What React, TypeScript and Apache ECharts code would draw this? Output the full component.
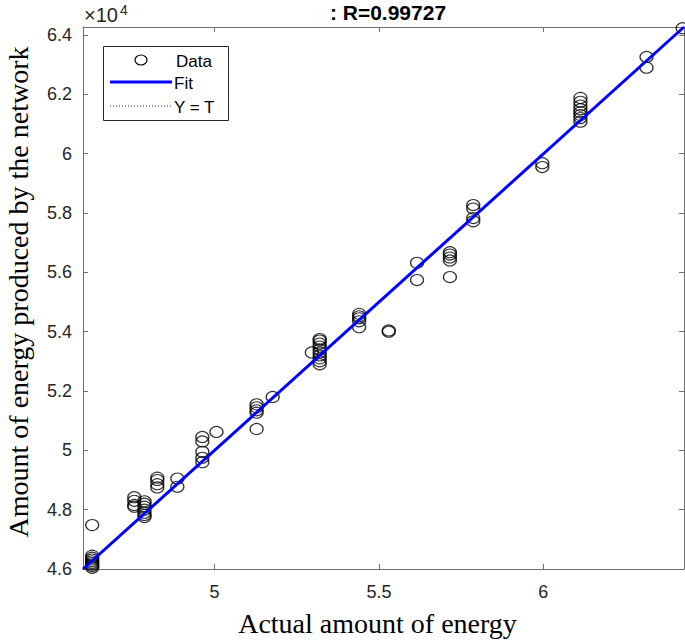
import React, { useEffect, useRef } from "react";
import * as echarts from "echarts";

// Values are in units of 10^4
const targets = [
  4.628, 4.628, 4.628, 4.628, 4.628, 4.628, 4.628, 4.628, 4.628,
  4.756, 4.756, 4.756, 4.756,
  4.787, 4.787, 4.787, 4.787, 4.787, 4.787, 4.787,
  4.826, 4.826, 4.826, 4.826,
  4.887, 4.887,
  4.963, 4.963, 4.963, 4.963, 4.963,
  5.006,
  5.128, 5.128, 5.128, 5.128, 5.128,
  5.177,
  5.296,
  5.32, 5.32, 5.32, 5.32, 5.32, 5.32, 5.32, 5.32, 5.32, 5.32,
  5.44, 5.44, 5.44, 5.44, 5.44,
  5.53, 5.53,
  5.616, 5.616,
  5.716, 5.716, 5.716, 5.716, 5.716,
  5.787, 5.787, 5.787, 5.787,
  5.997, 5.997,
  6.113, 6.113, 6.113, 6.113, 6.113, 6.113, 6.113, 6.113,
  6.314, 6.314,
  6.424,
];
const outputs = [
  4.748, 4.645, 4.638, 4.632, 4.626, 4.62, 4.615, 4.61, 4.604,
  4.842, 4.83, 4.816, 4.81,
  4.828, 4.82, 4.81, 4.8, 4.79, 4.782, 4.775,
  4.908, 4.9, 4.886, 4.875,
  4.905, 4.877,
  5.045, 5.03, 4.995, 4.975, 4.96,
  5.062,
  5.155, 5.145, 5.135, 5.127, 5.072,
  5.18,
  5.33,
  5.375, 5.37, 5.36, 5.35, 5.34, 5.33, 5.32, 5.31, 5.3, 5.29,
  5.46, 5.452, 5.445, 5.435, 5.415,
  5.404, 5.4,
  5.632, 5.574,
  5.668, 5.66, 5.65, 5.64, 5.584,
  5.827, 5.815, 5.783, 5.772,
  5.968, 5.955,
  6.188, 6.175, 6.162, 6.15, 6.14, 6.13, 6.12, 6.108,
  6.326, 6.29,
  6.423,
];
const fitT = [4.6, 6.428];
const fitY = [4.6, 6.427];
const identityLine = [4.6, 6.428];
const xTicks = [5, 5.5, 6];
const yTicks = [4.6, 4.8, 5, 5.2, 5.4, 5.6, 5.8, 6, 6.2, 6.4];
const xRange = [4.6, 6.428];
const yRange = [4.6, 6.427];

export default function App() {
  const ref = useRef<HTMLDivElement>(null);
  useEffect(() => {
    document.body.style.margin = "0";
    const chart = echarts.init(ref.current!, null, { renderer: "svg" });
    const axisColor = "#6e6e6e";
    const sans = "Liberation Sans, Arial, sans-serif";
    const serif = "Liberation Serif, Times New Roman, serif";
    const labelStyle = {
      fontFamily: sans,
      fontSize: 18,
      color: "#262626",
    };
    const option: any = {
      animation: false,
      backgroundColor: "#ffffff",
      grid: {
        left: 83,
        right: 1,
        top: 27,
        bottom: 74,
        containLabel: false,
        outerBoundsMode: "none",
      },
      xAxis: [
        {
          type: "value",
          min: xRange[0],
          max: xRange[1],
          position: "bottom",
          name: "Actual amount of energy",
          nameLocation: "middle",
          nameGap: 40,
          nameTextStyle: {
            fontFamily: serif,
            fontSize: 28,
            color: "#000",
            padding: [0, 12, 0, 0],
          },
          axisLine: { show: true, onZero: false, lineStyle: { color: axisColor, width: 1 } },
          axisTick: { show: true, inside: true, length: 5, customValues: xTicks, lineStyle: { color: axisColor } },
          axisLabel: { ...labelStyle, margin: 14, customValues: xTicks, formatter: (v: number) => String(v) },
          splitLine: { show: false },
        },
        {
          type: "value",
          min: xRange[0],
          max: xRange[1],
          position: "top",
          axisLine: { show: true, onZero: false, lineStyle: { color: axisColor, width: 1 } },
          axisTick: { show: true, inside: true, length: 5, customValues: xTicks, lineStyle: { color: axisColor } },
          axisLabel: { show: false },
          splitLine: { show: false },
        },
      ],
      yAxis: [
        {
          type: "value",
          min: yRange[0],
          max: yRange[1],
          position: "left",
          axisLine: { show: true, onZero: false, lineStyle: { color: axisColor, width: 1 } },
          axisTick: { show: true, inside: true, length: 5, customValues: yTicks, lineStyle: { color: axisColor } },
          axisLabel: {
            ...labelStyle,
            margin: 11,
            customValues: yTicks,
            formatter: (v: number) => String(Number(v.toFixed(1))),
          },
          splitLine: { show: false },
        },
        {
          type: "value",
          min: yRange[0],
          max: yRange[1],
          position: "right",
          axisLine: { show: true, onZero: false, lineStyle: { color: axisColor, width: 1 } },
          axisTick: { show: true, inside: true, length: 5, customValues: yTicks, lineStyle: { color: axisColor } },
          axisLabel: { show: false },
          splitLine: { show: false },
        },
      ],
      series: [
        {
          name: "Data",
          type: "scatter",
          xAxisIndex: 0,
          yAxisIndex: 0,
          data: targets.map((t, i) => [t, outputs[i]]),
          symbol: "circle",
          symbolSize: [13, 11],
          itemStyle: { color: "rgba(0,0,0,0)", borderColor: "#000", borderWidth: 1.2 },
          z: 2,
        },
        {
          name: "Y = T",
          type: "line",
          data: identityLine.map((v) => [v, v]),
          symbol: "none",
          lineStyle: { color: "#000", width: 1, type: [1, 2] },
          z: 3,
        },
        {
          name: "Fit",
          type: "line",
          data: fitT.map((t, i) => [t, fitY[i]]),
          symbol: "none",
          lineStyle: { color: "#0000ff", width: 3 },
          z: 4,
        },
      ],
      graphic: [
        {
          type: "text",
          x: 18,
          y: 292,
          rotation: Math.PI / 2,
          style: {
            text: "Amount of energy produced by the network",
            fontFamily: serif,
            fontSize: 28,
            fill: "#000",
            align: "center",
            verticalAlign: "middle",
          },
        },
        {
          type: "text",
          x: 388,
          y: 12,
          style: {
            text: ": R=0.99727",
            fontFamily: sans,
            fontWeight: "bold",
            fontSize: 21,
            fill: "#000",
            align: "center",
            verticalAlign: "middle",
          },
        },
        {
          type: "text",
          x: 84,
          y: 25,
          style: {
            text: "×10",
            fontFamily: sans,
            fontSize: 20,
            fill: "#262626",
            verticalAlign: "bottom",
          },
        },
        {
          type: "text",
          x: 120,
          y: 3,
          style: {
            text: "4",
            fontFamily: sans,
            fontSize: 14,
            fill: "#262626",
            verticalAlign: "top",
          },
        },
        {
          type: "group",
          children: [
            {
              type: "rect",
              shape: { x: 103.5, y: 46.5, width: 125, height: 74 },
              style: { fill: "#fff", stroke: "#262626", lineWidth: 1 },
            },
            {
              type: "ellipse",
              shape: { cx: 141, cy: 60, rx: 6, ry: 5 },
              style: { fill: "none", stroke: "#000", lineWidth: 1.2 },
            },
            {
              type: "text",
              x: 176,
              y: 61,
              style: { text: "Data", fontFamily: sans, fontSize: 17, fill: "#000", verticalAlign: "middle" },
            },
            {
              type: "line",
              shape: { x1: 110, y1: 82, x2: 172, y2: 82 },
              style: { stroke: "#0000ff", lineWidth: 3 },
            },
            {
              type: "text",
              x: 174,
              y: 83,
              style: { text: "Fit", fontFamily: sans, fontSize: 17, fill: "#000", verticalAlign: "middle" },
            },
            {
              type: "line",
              shape: { x1: 110, y1: 106, x2: 172, y2: 106 },
              style: { stroke: "#333", lineWidth: 1, lineDash: [1, 2] },
            },
            {
              type: "text",
              x: 174,
              y: 107,
              style: { text: "Y = T", fontFamily: sans, fontSize: 17, fill: "#000", verticalAlign: "middle" },
            },
          ],
        },
      ],
    };
    chart.setOption(option);
    return () => chart.dispose();
  }, []);
  return (
    <div
      ref={ref}
      style={{ position: "absolute", left: 0, top: 0, width: 685, height: 643, background: "#fff" }}
    />
  );
}
